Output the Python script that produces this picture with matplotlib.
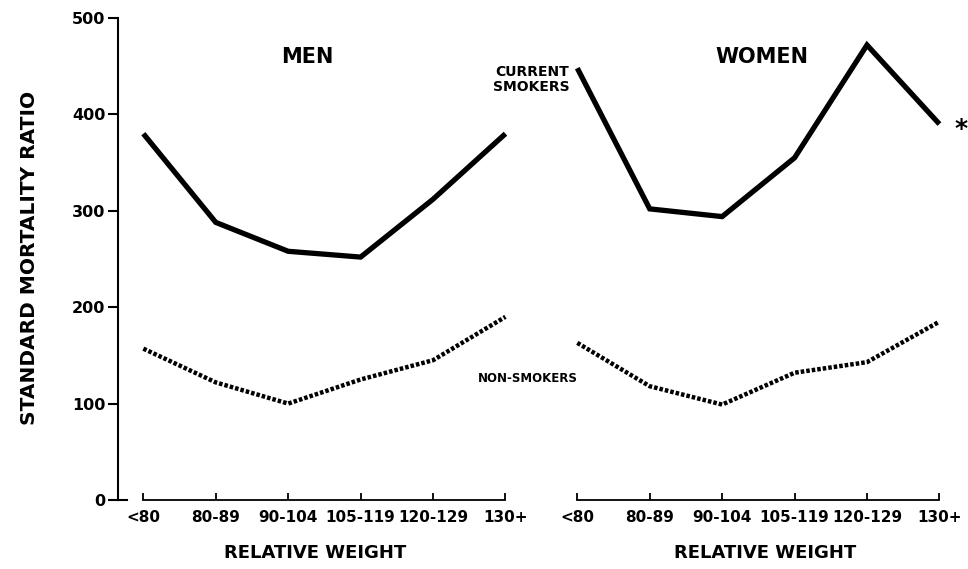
import matplotlib
matplotlib.use("Agg")
import matplotlib.pyplot as plt

# ==============================
# DATA
# ==============================

weight_groups = ["<80", "80-89", "90-104", "105-119", "120-129", "130+"]

men_smokers = [380, 288, 258, 252, 312, 380]
men_nonsmokers = [157, 122, 100, 125, 145, 190]

women_smokers = [448, 302, 294, 355, 472, 390]
women_nonsmokers = [163, 118, 99, 132, 143, 185]

y_ticks = [0, 100, 200, 300, 400, 500]

# ==============================
# FIGURE
# ==============================

plt.rcParams["font.family"] = ["DejaVu Sans"]
plt.rcParams["font.weight"] = "bold"

fig = plt.figure(figsize=(9.68, 5.69), dpi=100)

ax_men = fig.add_axes([0.1219, 0.1213, 0.404, 0.847])
ax_women = fig.add_axes([0.5702, 0.1213, 0.404, 0.847])

x = list(range(len(weight_groups)))
dotted = (0, (0.8, 0.45))

for ax, smokers, nonsmokers, title, title_x in [
    (ax_men, men_smokers, men_nonsmokers, "MEN", 2.27),
    (ax_women, women_smokers, women_nonsmokers, "WOMEN", 2.55),
]:
    ax.plot(x, smokers, color="black", lw=3.8, solid_capstyle="butt",
            solid_joinstyle="miter")
    ax.plot(x, nonsmokers, color="black", lw=3.2, linestyle=dotted,
            dash_capstyle="butt")

    ax.set_xlim(-0.35, 5.05)
    ax.set_ylim(0, 500)

    ax.spines["top"].set_visible(False)
    ax.spines["right"].set_visible(False)
    ax.spines["bottom"].set_bounds(0, 5)
    ax.spines["bottom"].set_linewidth(1.3)

    ax.set_xticks(x)
    ax.set_xticklabels(weight_groups, fontsize=11, fontweight="bold")
    ax.tick_params(axis="x", direction="in", length=5, width=1.3, pad=7)

    ax.text(title_x, 460, title, fontsize=15, fontweight="bold",
            ha="center", va="center")

# axis titles placed on the figure
fig.text(315 / 968, 1 - 553 / 569, "RELATIVE WEIGHT", fontsize=13,
         fontweight="bold", ha="center", va="center")
fig.text(765 / 968, 1 - 553 / 569, "RELATIVE WEIGHT", fontsize=13,
         fontweight="bold", ha="center", va="center")
fig.text(30 / 968, 1 - 258 / 569, "STANDARD MORTALITY RATIO", fontsize=14.5,
         fontweight="bold", ha="center", va="center", rotation=90)

# y axis only on the men panel
ax_men.spines["left"].set_linewidth(1.5)
ax_men.set_yticks(y_ticks)
ax_men.set_yticklabels([str(v) for v in y_ticks], fontsize=11.5,
                       fontweight="bold")
ax_men.tick_params(axis="y", direction="out", length=7, width=1.5, pad=2)
ax_men.plot([-0.35, -0.22], [0, 0], color="black", lw=1.5, clip_on=False)

ax_women.spines["left"].set_visible(False)
ax_women.set_yticks([])

# labels on the women panel
ax_women.text(-0.63, 436, "CURRENT\nSMOKERS", fontsize=10,
              fontweight="bold", ha="center", va="center", linespacing=1.05)
ax_women.text(-0.68, 126, "NON-SMOKERS", fontsize=8.5,
              fontweight="bold", ha="center", va="center")
ax_women.text(5.3, 385, "*", fontsize=18, fontweight="bold",
              ha="center", va="center", clip_on=False)

fig.savefig("out.png", dpi=100)
